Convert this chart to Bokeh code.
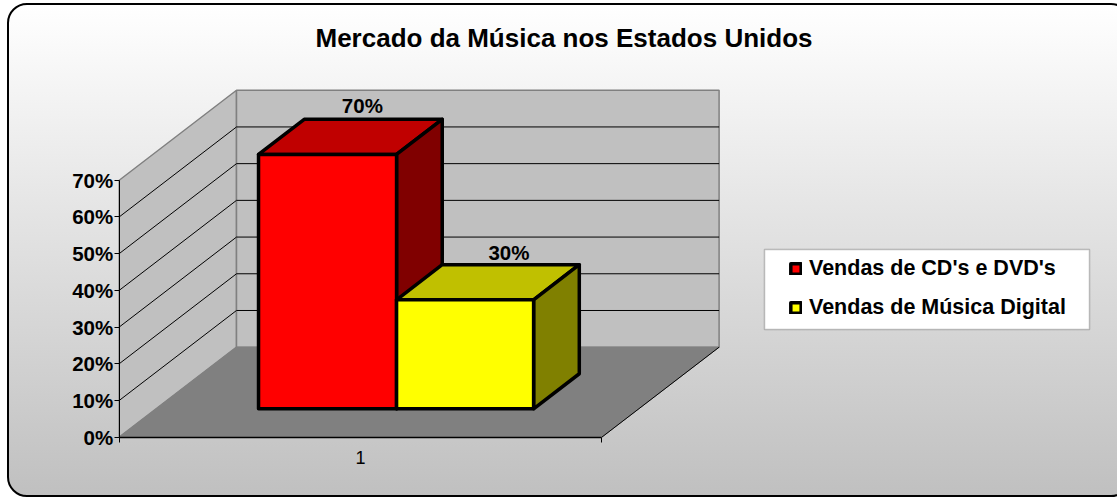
from bokeh.plotting import figure
from bokeh.embed import file_html
from bokeh.resources import INLINE
from bokeh.models import (Range1d, LinearAxis, FixedTicker, PrintfTickFormatter, BoxAnnotation,
                          Legend, LegendItem, Title, InlineStyleSheet)
from bokeh.core.properties import value

TITLE = "Mercado da Música nos Estados Unidos"
SERIES = ["Vendas de CD's e DVD's", "Vendas de Música Digital"]
VALUES = [70, 30]
LABELS = ["70%", "30%"]
CATEGORY = ["1"]
Y_TICKS = [0, 10, 20, 30, 40, 50, 60, 70]
FRONT = ["#ff0000", "#ffff00"]
TOP = ["#c00000", "#c0c000"]
SIDE = ["#800000", "#808000"]
BAR_EDGES = [0.212, 0.498, 0.782]   # along the category axis, fraction
BAR_DEPTH = (0.3156, 0.705)         # along the depth axis, fraction
BAR_SCALE = 0.99                    # foreshortening of bars
LABEL_SHIFT = [(12, 14), (21, 12)]

FONT = "Liberation Sans"
W, H, TOP_BORDER = 1117, 497, 67
X0, XLEN, Y0, YPX = 118.7, 482.6, 436.7, 3.671
DX = 117.3 / XLEN
DY = 90 / YPX
VMAX = Y_TICKS[-1]

def proj(u, v, d=0.0):
    return u + d * DX, v + d * DY

def poly(pts):
    xs, ys = zip(*[proj(*q) for q in pts])
    return list(xs), list(ys)

p = figure(frame_width=W, frame_height=H - TOP_BORDER, output_backend="svg", toolbar_location=None,
           x_range=Range1d(-X0 / XLEN, (W - X0) / XLEN),
           y_range=Range1d((Y0 - H) / YPX, (Y0 - TOP_BORDER) / YPX),
           min_border_left=0, min_border_right=0, min_border_bottom=0, min_border_top=TOP_BORDER,
           background_fill_color=None, border_fill_color=None, outline_line_color=None,
           x_axis_type=None, y_axis_type=None)
p.grid.visible = False

p.add_layout(Title(text=TITLE, text_font=FONT, text_font_size="26px", text_font_style="bold",
                   text_color="#000000", align="left", offset=315, standoff=29), "above")

# walls and floor
wall_kw = dict(fill_color="#c0c0c0", line_color="#808080", line_width=1.5)
x, y = poly([(0, 0), (0, 0, 1), (0, VMAX, 1), (0, VMAX)])
p.patch(x, y, **wall_kw)
x, y = poly([(0, 0, 1), (1, 0, 1), (1, VMAX, 1), (0, VMAX, 1)])
p.patch(x, y, **wall_kw)
x, y = poly([(0, 0), (1, 0), (1, 0, 1), (0, 0, 1)])
p.patch(x, y, fill_color="#808080", line_color="#808080", line_width=1)

# gridlines on walls
gx, gy = [], []
for t in Y_TICKS[1:-1]:
    a, b = poly([(0, t), (0, t, 1), (1, t, 1)])
    gx.append(a)
    gy.append(b)
p.multi_line(gx, gy, line_color="#000000", line_width=1)
x, y = poly([(1, 0), (1, 0, 1)])
p.line(x, y, line_color="#000000", line_width=1)

# bars
d0, d1 = BAR_DEPTH
fronts = []
for i, val in enumerate(VALUES):
    u0, u1 = BAR_EDGES[i], BAR_EDGES[i + 1]
    base = proj(0, 0, d0)[1]
    h = val * BAR_SCALE
    edge = dict(line_color="#000000", line_width=3.5, line_join="round")
    top = lambda u, d: (u + d * DX, base + h + (d - d0) * DY)
    bot = lambda u, d: (u + d * DX, base + (d - d0) * DY)
    q = [top(u0, d0), top(u1, d0), top(u1, d1), top(u0, d1)]
    p.patch([a for a, _ in q], [b for _, b in q], fill_color=TOP[i], **edge)
    q = [bot(u1, d0), bot(u1, d1), top(u1, d1), top(u1, d0)]
    p.patch([a for a, _ in q], [b for _, b in q], fill_color=SIDE[i], **edge)
    q = [bot(u0, d0), bot(u1, d0), top(u1, d0), top(u0, d0)]
    fronts.append(p.patch([a for a, _ in q], [b for _, b in q], fill_color=FRONT[i], **edge))
    mx, my = top((u0 + u1) / 2, (d0 + d1) / 2)
    ly = top(u0, d1)[1]
    p.text([mx], [ly], text=[LABELS[i]], text_font=value(FONT), text_font_size="20.5px", text_font_style="bold",
           text_color="#000000", text_align="center", text_baseline="middle",
           x_offset=LABEL_SHIFT[i][0], y_offset=-LABEL_SHIFT[i][1])

# axes
yax = LinearAxis(fixed_location=0, ticker=FixedTicker(ticks=Y_TICKS), formatter=PrintfTickFormatter(format="%d%%"),
                 bounds=(0, VMAX), axis_line_color="#000000", axis_line_width=1, major_tick_line_color="#000000",
                 major_tick_out=5, major_tick_in=0, minor_tick_line_color=None, major_label_standoff=1,
                 major_label_text_font=FONT, major_label_text_font_size="20.5px", major_label_text_font_style="bold",
                 major_label_text_color="#000000")
p.add_layout(yax, "left")
xax = LinearAxis(fixed_location=0, ticker=FixedTicker(ticks=[0.5], minor_ticks=[0, 1]),
                 major_label_overrides={0.5: CATEGORY[0]}, bounds=(0, 1),
                 axis_line_color="#000000", axis_line_width=1.5, major_tick_line_color=None,
                 minor_tick_line_color="#000000", minor_tick_out=5, minor_tick_in=0, major_tick_out=5, major_tick_in=0,
                 major_label_standoff=9, major_label_text_font=FONT, major_label_text_font_size="18px",
                 major_label_text_color="#000000")
p.add_layout(xax, "below")

p.add_layout(BoxAnnotation(left=764, right=1089, top=248, bottom=168, left_units="screen", right_units="screen",
                           top_units="screen", bottom_units="screen", fill_color="#ffffff", fill_alpha=1,
                           line_color="#404040", line_width=1.5))
legend = Legend(items=[LegendItem(label=SERIES[i], renderers=[fronts[i]]) for i in range(2)],
                location=(789, 177), orientation="vertical", background_fill_alpha=0, border_line_color=None,
                padding=0, margin=0, spacing=14, glyph_width=13, glyph_height=13, label_standoff=7,
                label_text_font=FONT, label_text_font_size="21.5px", label_text_font_style="bold",
                label_text_color="#000000", label_height=25)
p.add_layout(legend, "center")

p.stylesheets = [InlineStyleSheet(css="""
:host { overflow: hidden; }
:host::before { content: ""; position: absolute; left: 7px; top: 3px; width: 1120px; height: 490px;
  box-sizing: content-box; border: 2.5px solid #000; border-radius: 20px;
  background: linear-gradient(180deg, #ffffff 0%, #c0c0c0 100%); }
""")]

open("out.html", "w").write(file_html(p, INLINE))
